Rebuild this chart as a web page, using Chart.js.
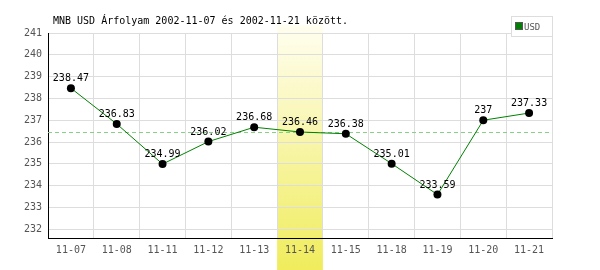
<!DOCTYPE html>
<html>
<head>
<meta charset="utf-8">
<script src="https://cdn.jsdelivr.net/npm/chart.js@4/dist/chart.umd.min.js"></script>
<style>
  html, body { margin: 0; padding: 0; background: #fff; }
  #wrap { width: 600px; height: 270px; }
</style>
</head>
<body>
<div id="wrap"><canvas id="chart" width="600" height="270"></canvas></div>
<script>
// Adatok
const labels = ['11-07', '11-08', '11-11', '11-12', '11-13', '11-14', '11-15', '11-18', '11-19', '11-20', '11-21'];
const usdValues = [238.47, 236.83, 234.99, 236.02, 236.68, 236.46, 236.38, 235.01, 233.59, 237, 237.33];
const valueLabels = ['238.47', '236.83', '234.99', '236.02', '236.68', '236.46', '236.38', '235.01', '233.59', '237', '237.33'];
const yTicks = [232, 233, 234, 235, 236, 237, 238, 239, 240, 241];
const averageValue = 236.45;
const highlightIndex = 5;
const titleText = 'MNB USD Árfolyam 2002-11-07 és 2002-11-21 között.';
const seriesName = 'USD';

const monoFont = '"DejaVu Sans Mono", monospace';

// Kiemelt sáv (a grid alatt)
const bandPlugin = {
    id: 'band',
    beforeDraw(chart) {
        const ctx = chart.ctx;
        const x = chart.scales.x;
        const w = x.getPixelForValue(1) - x.getPixelForValue(0);
        const left = x.getPixelForValue(highlightIndex) - w / 2;
        const g = ctx.createLinearGradient(0, 25, 0, 270);
        g.addColorStop(0, '#fffef0');
        g.addColorStop(1, '#f0ec5c');
        ctx.save();
        ctx.fillStyle = g;
        ctx.fillRect(left, 25, w, 245);
        ctx.restore();
    }
};

// Átlag vonal, feliratok, cím, jelmagyarázat
const extrasPlugin = {
    id: 'extras',
    beforeDatasetsDraw(chart) {
        const ctx = chart.ctx;
        const area = chart.chartArea;
        const y = chart.scales.y.getPixelForValue(averageValue);
        ctx.save();
        ctx.strokeStyle = '#88d088';
        ctx.lineWidth = 1;
        ctx.setLineDash([4, 3]);
        ctx.beginPath();
        ctx.moveTo(area.left, Math.round(y) + 0.5);
        ctx.lineTo(area.right, Math.round(y) + 0.5);
        ctx.stroke();
        ctx.restore();
    },
    afterDatasetsDraw(chart) {
        const ctx = chart.ctx;
        const meta = chart.getDatasetMeta(0);
        ctx.save();
        ctx.font = '10px ' + monoFont;
        ctx.fillStyle = '#000';
        ctx.textAlign = 'center';
        ctx.textBaseline = 'alphabetic';
        meta.data.forEach((pt, i) => {
            ctx.fillText(valueLabels[i], pt.x, pt.y - 7);
        });

        // cím
        ctx.textAlign = 'left';
        ctx.fillText(titleText, 53, 24);

        // jelmagyarázat
        ctx.fillStyle = '#fff';
        ctx.fillRect(511, 16, 41, 20);
        ctx.strokeStyle = '#dddddd';
        ctx.lineWidth = 1;
        ctx.strokeRect(511.5, 16.5, 41, 20);
        ctx.fillStyle = '#008000';
        ctx.fillRect(516, 23, 6, 6);
        ctx.strokeStyle = '#555';
        ctx.strokeRect(515.5, 22.5, 7, 7);
        ctx.fillStyle = '#555';
        ctx.font = '9px ' + monoFont;
        ctx.fillText(seriesName, 524, 30);
        ctx.restore();
    }
};

new Chart(document.getElementById('chart'), {
    type: 'line',
    data: {
        labels: labels,
        datasets: [{
            label: seriesName,
            data: usdValues,
            borderColor: '#008000',
            borderWidth: 1,
            tension: 0,
            pointRadius: 4,
            pointBackgroundColor: '#000',
            pointBorderColor: '#000',
            pointBorderWidth: 0,
            fill: false
        }]
    },
    options: {
        responsive: false,
        animation: false,
        layout: { padding: { top: 33, right: 48, left: 0, bottom: 0 } },
        plugins: {
            legend: { display: false },
            title: { display: false },
            tooltip: { enabled: false }
        },
        scales: {
            x: {
                offset: true,
                grid: { color: '#dddddd', offset: true, drawTicks: false },
                border: { color: '#000', width: 1 },
                ticks: { color: '#555', font: { family: monoFont, size: 10 }, padding: 6, maxRotation: 0 },
                afterFit(scale) { scale.height = 32; }
            },
            y: {
                min: 231.6,
                max: 241,
                grid: { color: '#dddddd', drawTicks: false },
                border: { color: '#000', width: 1 },
                ticks: { color: '#555', font: { family: monoFont, size: 10 }, padding: 6 },
                afterBuildTicks(scale) { scale.ticks = yTicks.map(v => ({ value: v })); },
                afterFit(scale) { scale.width = 48; }
            }
        }
    },
    plugins: [bandPlugin, extrasPlugin]
});
</script>
</body>
</html>
